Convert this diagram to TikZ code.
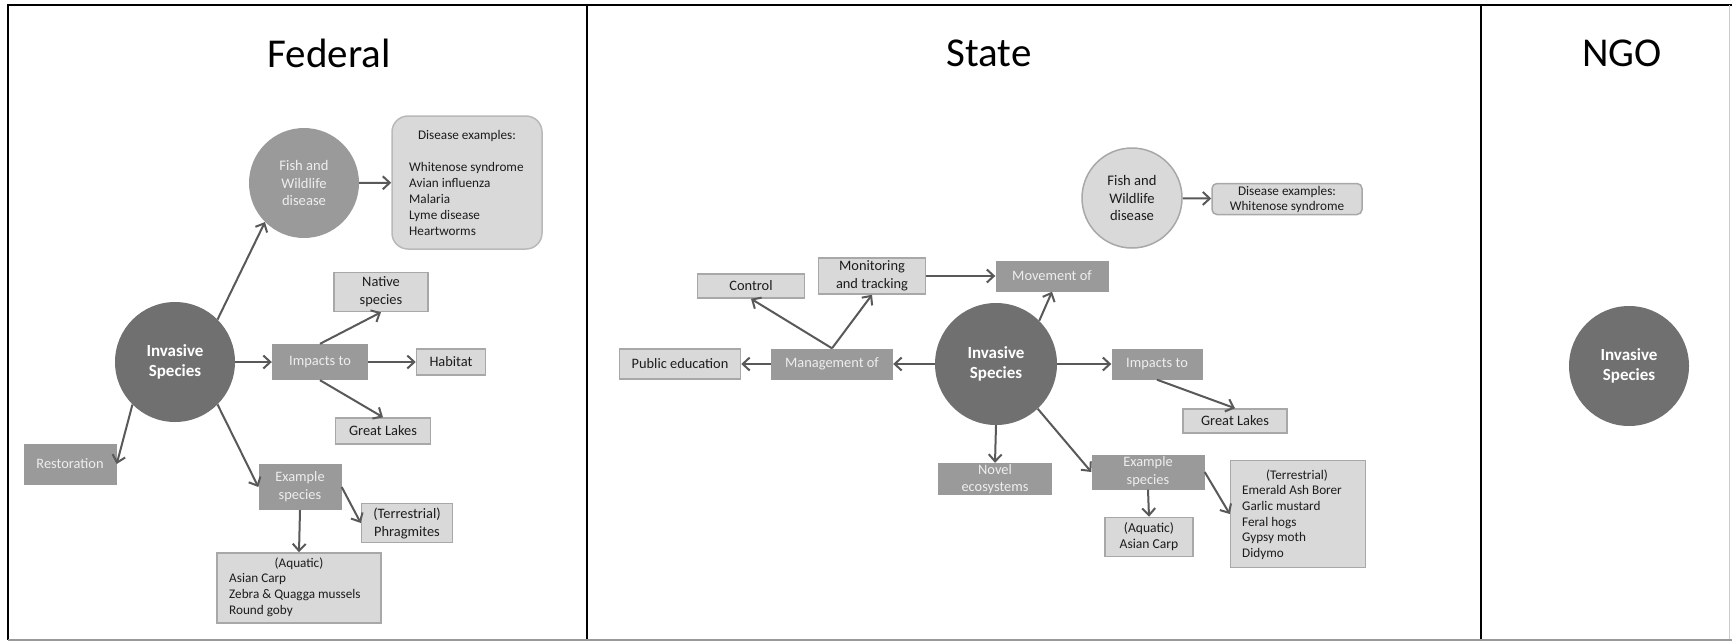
\documentclass[tikz,border=0pt]{standalone}
\usepackage{fontspec}
\setmainfont{Carlito}
\usetikzlibrary{arrows.meta}
\definecolor{darkc}{HTML}{707070}
\definecolor{medc}{HTML}{9A9A9A}
\definecolor{lightc}{HTML}{D9D9D9}
\definecolor{edgec}{HTML}{A8A8A8}
\definecolor{arrowc}{HTML}{595959}
\definecolor{txtd}{HTML}{1C1C1C}
\definecolor{txtl}{HTML}{EEEEEE}
\begin{document}
\begin{tikzpicture}[x=1pt,y=-1pt,
  bx/.style={rectangle,inner sep=0pt,align=center,font=\fontsize{14.4pt}{18pt}\selectfont},
  lbox/.style={bx,fill=lightc,draw=edgec,line width=1.5pt,text=txtd},
  mbox/.style={bx,fill=medc,text=txtl},
  invc/.style={circle,fill=darkc,inner sep=0pt,minimum size=#1,align=center,text=white,font=\bfseries\fontsize{17pt}{20pt}\selectfont},
  arr/.style={draw=arrowc,line width=2pt,-{Straight Barb[length=7pt,width=13pt]}},
  ptitle/.style={inner sep=0pt,font=\fontsize{41pt}{48pt}\selectfont},
  listtxt/.style={inner sep=0pt,align=left,text=txtd,font=\fontsize{13.2pt}{15.8pt}\selectfont},
  pline/.style={line width=2.5pt,black}
]
\useasboundingbox (0,0) rectangle (1732,641);
\fill[white] (0,0) rectangle (1732,641);
% frame
\draw[pline] (8,640) -- (8,5) -- (1732,5);
\draw[pline] (587,5) -- (587,640);
\draw[pline] (1481,5) -- (1481,640);
\draw[line width=2pt,gray!80] (8,639.5) -- (1732,639.5);
\draw[line width=1pt,gray!40] (1729,5) -- (1729,639);
% titles
\node[ptitle] (tfed) at (329,53) {Federal};
\node[ptitle] (tsta) at (989,53) {State};
\node[ptitle] (tngo) at (1622,53) {NGO};

% ---------- Federal ----------
\node[invc=120] (inv1) at (175,362) {Invasive\\Species};
\node[circle,fill=medc,inner sep=0pt,minimum size=110,align=center,text=txtl,font=\fontsize{14.6pt}{17.5pt}\selectfont] (fish1) at (304,183) {Fish and\\Wildlife\\disease};
\node[bx,fill=lightc,draw=edgec!80,line width=1.5pt,rounded corners=16pt,minimum width=150,minimum height=133] (dis1) at (467,182.5) {};
\node[listtxt] (dis1h) at (467,136) {Disease examples:};
\node[listtxt,anchor=west] (dis1l) at (409,199) {Whitenose syndrome\\Avian influenza\\Malaria\\Lyme disease\\Heartworms};
\node[lbox,minimum width=94,minimum height=39] (nat1) at (381,292) {Native\\species};
\node[mbox,minimum width=96,minimum height=36] (imp1) at (320,362) {Impacts to};
\node[lbox,minimum width=69,minimum height=26] (hab1) at (451,362) {Habitat};
\node[lbox,minimum width=95,minimum height=26] (gl1) at (383,431) {Great Lakes};
\node[mbox,minimum width=93,minimum height=41] (rest1) at (70,464) {Restoration};
\node[mbox,minimum width=83,minimum height=46] (ex1) at (300,487) {Example\\species};
\node[lbox,minimum width=91,minimum height=39] (ter1) at (407,523) {(Terrestrial)\\Phragmites};
\node[lbox,minimum width=164,minimum height=70] (aq1) at (299,588) {};
\node[listtxt] (aq1h) at (299,564) {(Aquatic)};
\node[listtxt,anchor=west] (aq1l) at (229,595) {Asian Carp\\Zebra \& Quagga mussels\\Round goby};

\draw[arr] (inv1.45) -- (fish1.-135);
\draw[arr] (fish1) -- (dis1);
\draw[arr] (inv1) -- (imp1);
\draw[arr] (imp1.north) -- (nat1.south);
\draw[arr] (imp1) -- (hab1);
\draw[arr] (imp1.south) -- (gl1.north);
\draw[arr] (inv1.-135) -- (rest1.east);
\draw[arr] (inv1.-45) -- (ex1.west);
\draw[arr] (ex1.east) -- (ter1.west);
\draw[arr] (ex1.south) -- (aq1.north);

% ---------- State ----------
\node[lbox,minimum width=107,minimum height=24] (ctl) at (751,286) {Control};
\node[lbox,minimum width=107,minimum height=36] (mon) at (872,276) {Monitoring\\and tracking};
\node[mbox,minimum width=113,minimum height=31] (mov) at (1052,276) {Movement of};
\node[lbox,minimum width=121,minimum height=30] (pub) at (680,364) {Public education};
\node[mbox,minimum width=122,minimum height=31] (mgt) at (832,364) {Management of};
\node[invc=122] (inv2) at (996,364) {Invasive\\Species};
\node[mbox,minimum width=91,minimum height=31] (imp2) at (1157,364) {Impacts to};
\node[circle,fill=lightc,draw=edgec,line width=1.5pt,inner sep=0pt,minimum size=100,align=center,text=txtd,font=\fontsize{14.6pt}{17.5pt}\selectfont] (fish2) at (1132,198) {Fish and\\Wildlife\\disease};
\node[lbox,rounded corners=5pt,minimum width=150,minimum height=31,font=\fontsize{13.2pt}{15pt}\selectfont] (dis2) at (1287,199) {Disease examples:\\Whitenose syndrome};
\node[lbox,minimum width=104,minimum height=24] (gl2) at (1235,421) {Great Lakes};
\node[mbox,minimum width=114,minimum height=32,font=\fontsize{14.4pt}{17pt}\selectfont] (nov) at (995,479) {Novel\\ecosystems};
\node[mbox,minimum width=113,minimum height=35] (ex2) at (1148,472) {Example\\species};
\node[lbox,minimum width=88,minimum height=39,font=\fontsize{13.6pt}{15.8pt}\selectfont] (aq2) at (1149,537) {(Aquatic)\\Asian Carp};
\node[lbox,minimum width=135,minimum height=107] (ter2) at (1298,514) {};
\node[listtxt] (ter2h) at (1297,476) {(Terrestrial)};
\node[listtxt,anchor=west] (ter2l) at (1242,522.5) {Emerald Ash Borer\\Garlic mustard\\Feral hogs\\Gypsy moth\\Didymo};

\draw[arr] (inv2) -- (mgt);
\draw[arr] (mgt) -- (pub);
\draw[arr] (mgt.north) -- (ctl.south);
\draw[arr] (mgt.north) -- (mon.south);
\draw[arr] (mon) -- (mov);
\draw[arr] (inv2.45) -- (mov.south);
\draw[arr] (inv2) -- (imp2);
\draw[arr] (imp2.south) -- (gl2.north);
\draw[arr] (fish2) -- (dis2);
\draw[arr] (inv2.south) -- (nov.north);
\draw[arr] (inv2.-47) -- (ex2.west);
\draw[arr] (ex2.south) -- (aq2.north);
\draw[arr] (ex2.east) -- (ter2.west);

% ---------- NGO ----------
\node[invc=120] (inv3) at (1629,366) {Invasive\\Species};
\end{tikzpicture}
\end{document}
